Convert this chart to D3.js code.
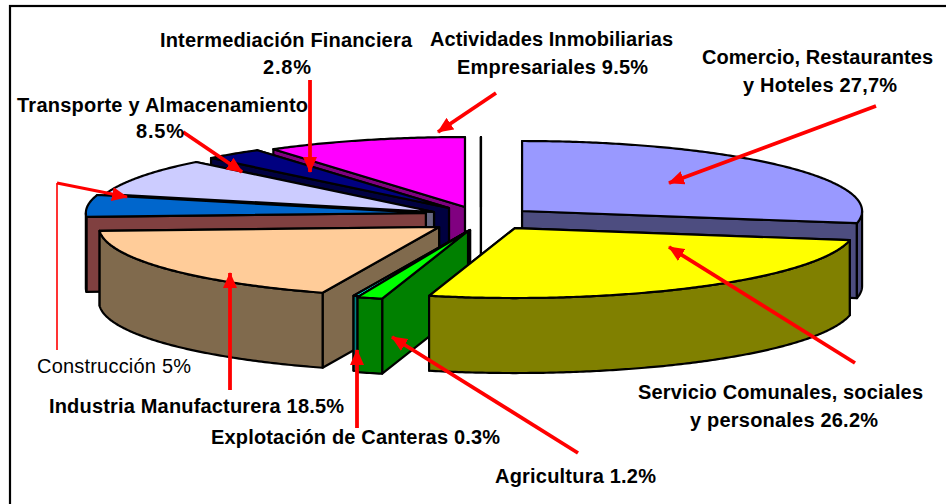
<!DOCTYPE html>
<html>
<head>
<meta charset="utf-8">
<script src="https://cdnjs.cloudflare.com/ajax/libs/d3/7.8.5/d3.min.js"></script>
<style>
html,body{margin:0;padding:0;background:#fff;overflow:hidden}
svg{display:block}
text{font-family:"Liberation Sans",Arial,sans-serif;fill:#000;font-size:20px}
</style>
</head>
<body>
<svg id="chart" width="946" height="504"></svg>
<script>
// --- data ---
const categories = ["Comercio, Restaurantes y Hoteles","Servicio Comunales, sociales y personales","Agricultura","Explotación de Canteras","Industria Manufacturera","Construcción","Transporte y Almacenamiento","Intermediación Financiera","Actividades Inmobiliarias Empresariales","Otros"];
const values = [27.7,26.2,1.2,0.3,18.5,5,8.5,2.8,9.5,0];
const topColors = ["#9999FF","#FFFF00","#00FF00","#00FFFF","#FFCC99","#0066CC","#CCCCFF","#000080","#FF00FF","#FFFFFF"];
const wallColors = ["#4D4D80","#808000","#008000","#008080","#806A4D","#804040","#666680","#000040","#800080","#FFFFFF"];
// explosion of each slice, in units of the pie radius
const explodeX = [0.112,0.091,-0.047,-0.041,-0.132,-0.171,-0.147,-0.103,-0.056,-0.009];
const explodeY = [-0.114,0.129,0.171,0.157,0.114,-0.086,-0.100,-0.157,-0.171,-0.171];
const paintOrder = [0,9,8,7,6,5,4,3,2,1];

// --- annotations ---
const labelLines = [
 ["Intermediación Financiera",160,47,252,"bold"],["2.8%",263,74,48,"bold"],
 ["Actividades Inmobiliarias",430,46,243,"bold"],["Empresariales 9.5%",457,74,191,"bold"],
 ["Comercio, Restaurantes",702,64,231,"bold"],["y Hoteles 27,7%",743,92,154,"bold"],
 ["Transporte y Almacenamiento",17,112,291,"bold"],["8.5%",136,138,48,"bold"],
 ["Construcción 5%",37,373,154,"normal"],
 ["Industria Manufacturera 18.5%",49,413,295,"bold"],
 ["Explotación de Canteras 0.3%",211,444,289,"bold"],
 ["Agricultura 1.2%",495,483,161,"bold"],
 ["Servicio Comunales, sociales",638,399,285,"bold"],["y personales 26.2%",690,427,188,"bold"]
];
const arrows = [
 [[876,106],[669,183]],[[855,363],[669,247]],[[578,453],[392,337]],[[357,428],[357,350]],
 [[230,390],[230,273]],[[183,132],[242,172]],[[310,80],[310,172]],[[496,93],[438,132]]
];
const construccionLeader = [[57,350],[57,183],[127,197]];

// --- geometry ---
const rx=340, ry=70, depth=75, cx=484, cy=219;
const xScale=d3.scaleLinear().domain([-1,1]).range([cx-rx,cx+rx]);
const yScale=d3.scaleLinear().domain([-1,1]).range([cy-ry,cy+ry]);
const pie=d3.pie().sort(null).value(d=>d.value);
const slices=pie(values.map((value,i)=>({value,i})));
const line=d3.line().curve(d3.curveLinear);
const svg=d3.select("#chart");

svg.append("rect").attr("x",10).attr("y",6).attr("width",1000).attr("height",600)
   .attr("fill","#fff").attr("stroke","#000").attr("stroke-width",2.2);

const apex=s=>[xScale(explodeX[s.data.i]),yScale(explodeY[s.data.i])];
const rim=(s,a,dz=0)=>[xScale(explodeX[s.data.i]+Math.sin(a)),yScale(explodeY[s.data.i]-Math.cos(a))+dz];
const arcPts=(s,a0,a1,dz=0)=>{
  const n=Math.max(2,Math.ceil((a1-a0)/0.01));
  return d3.range(n+1).map(k=>rim(s,a0+(a1-a0)*k/n,dz));
};
const wallPts=(s,a)=>{const [x,y]=apex(s);const [rxp,ryp]=rim(s,a);
  return [[x,y],[rxp,ryp],[rxp,ryp+depth],[x,y+depth]];};

const g=svg.append("g").attr("stroke","#000").attr("stroke-width",2.2).attr("stroke-linejoin","round");
paintOrder.forEach(idx=>{
  const s=slices[idx], wall=wallColors[idx], top=topColors[idx];
  const sg=g.append("g").attr("class","slice").datum(s);
  const startVisible=Math.sin(s.startAngle)<0, endVisible=Math.sin(s.endAngle)>0;
  const walls=[[s.startAngle,startVisible],[s.endAngle,endVisible]].sort((a,b)=>a[1]-b[1]);
  walls.forEach(([a])=>sg.append("path").attr("d",line(wallPts(s,a))+"Z").attr("fill",wall));
  const a0=Math.max(s.startAngle,Math.PI/2), a1=Math.min(s.endAngle,3*Math.PI/2);
  if(a1>a0){
    const pts=arcPts(s,a0,a1).concat(arcPts(s,a0,a1,depth).reverse());
    sg.append("path").attr("d",line(pts)+"Z").attr("fill",wall);
  }
  const topPts=[apex(s)].concat(arcPts(s,s.startAngle,s.endAngle));
  sg.append("path").attr("d",line(topPts)+"Z").attr("fill",top);
});

// --- arrows ---
const defs=svg.append("defs");
defs.append("marker").attr("id","head").attr("markerUnits","userSpaceOnUse")
  .attr("viewBox","0 0 16 14").attr("refX",15).attr("refY",7)
  .attr("markerWidth",16).attr("markerHeight",14).attr("orient","auto")
  .append("path").attr("d","M0,0L16,7L0,14Z").attr("fill","#FF0000");
svg.append("g").selectAll("path").data(arrows).join("path")
  .attr("d",d=>line(d)).attr("fill","none").attr("stroke","#FF0000")
  .attr("stroke-width",3.8).attr("marker-end","url(#head)");
svg.append("path").attr("d",line(construccionLeader.slice(0,2))).attr("fill","none").attr("stroke","#FF0000").attr("stroke-width",1.6);
svg.append("path").attr("d",line(construccionLeader.slice(1))).attr("fill","none").attr("stroke","#FF0000")
   .attr("stroke-width",3.2).attr("marker-end","url(#head)");

// --- labels ---
svg.append("g").selectAll("text").data(labelLines).join("text")
  .attr("x",d=>d[1]).attr("y",d=>d[2]).attr("textLength",d=>d[3]).attr("lengthAdjust","spacing")
  .attr("font-weight",d=>d[4]).text(d=>d[0]);
</script>
</body>
</html>
